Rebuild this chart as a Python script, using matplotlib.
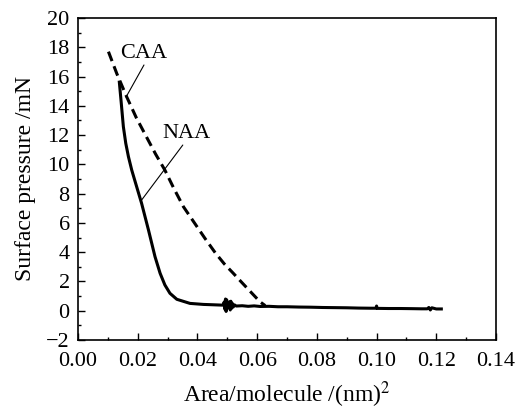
import numpy as np
import matplotlib
matplotlib.use("Agg")
import matplotlib.pyplot as plt
from matplotlib.ticker import MultipleLocator, FormatStrFormatter

matplotlib.rcParams['mathtext.fontset'] = 'stix'
matplotlib.rcParams['font.family'] = 'Liberation Serif'

# CAA isotherm (dashed)
caa_area = [0.0102, 0.0130, 0.0163, 0.0195, 0.0230, 0.0260, 0.0291, 0.0320,
            0.0353, 0.0390, 0.0425, 0.0460, 0.0490, 0.0520, 0.0550, 0.0580,
            0.0610, 0.0627]
caa_pressure = [17.7, 16.2, 14.62, 13.2, 11.85, 10.7, 9.61, 8.4,
                7.11, 6.0, 4.95, 3.95, 3.2, 2.56, 1.9, 1.25,
                0.6, 0.35]

# NAA isotherm (solid)
naa_area = [0.0138, 0.0145, 0.0152, 0.0160, 0.0169, 0.0180, 0.0191, 0.0213,
            0.0236, 0.0258, 0.0275, 0.0291, 0.0308, 0.0331, 0.0375, 0.0420,
            0.0460, 0.0485, 0.0490, 0.0492, 0.0494, 0.0496, 0.0498, 0.0500,
            0.0502, 0.0505, 0.0508, 0.0510, 0.0512, 0.0514, 0.0517, 0.0520,
            0.0524, 0.0530, 0.0550, 0.0570, 0.0590, 0.0610, 0.0640, 0.0670,
            0.0700, 0.0740, 0.0780, 0.0820, 0.0860, 0.0900, 0.0940, 0.0980,
            0.0998, 0.1000, 0.1002, 0.1040, 0.1080, 0.1120, 0.1150, 0.1170,
            0.1175, 0.1180, 0.1185, 0.1200, 0.1222]
naa_pressure = [15.72, 14.17, 12.57, 11.44, 10.52, 9.61, 8.85, 7.34,
                5.52, 3.69, 2.56, 1.76, 1.19, 0.78, 0.5, 0.43,
                0.4, 0.38, 0.6, 0.1, 0.8, -0.05, 0.75, 0.2,
                0.55, 0.2, 0.6, 0.05, 0.65, 0.15, 0.5, 0.25,
                0.4, 0.32, 0.34, 0.3, 0.33, 0.29, 0.3, 0.27,
                0.27, 0.25, 0.24, 0.22, 0.21, 0.2, 0.18, 0.17,
                0.17, 0.32, 0.16, 0.15, 0.15, 0.14, 0.13, 0.13,
                0.22, 0.05, 0.2, 0.12, 0.12]

fig = plt.figure(figsize=(5.22, 4.12), dpi=100)
ax = fig.add_axes([0.1494, 0.1748, 0.8008, 0.7815])

ax.plot(naa_area, naa_pressure, color="black", lw=2.2, solid_capstyle="butt")
ax.plot(caa_area, caa_pressure, color="black", lw=2.2, linestyle=(0, (3.3, 1.8)))

# curve labels with leader lines
ax.text(0.0141, 17.6, "CAA", fontsize=16, ha="left", va="center")
ax.annotate("", xy=(0.0161, 14.6), xytext=(0.0221, 16.79),
            arrowprops=dict(arrowstyle="-", color="black", lw=0.8,
                            shrinkA=0, shrinkB=0))
ax.text(0.0281, 12.14, "NAA", fontsize=16, ha="left", va="center")
ax.annotate("", xy=(0.0213, 7.56), xytext=(0.0351, 11.32),
            arrowprops=dict(arrowstyle="-", color="black", lw=0.8,
                            shrinkA=0, shrinkB=0))

ax.set_xlim(0.0, 0.14)
ax.set_ylim(-2, 20)
ax.xaxis.set_major_locator(MultipleLocator(0.02))
ax.xaxis.set_minor_locator(MultipleLocator(0.01))
ax.xaxis.set_major_formatter(FormatStrFormatter("%.2f"))
ax.yaxis.set_major_locator(MultipleLocator(2))
ax.yaxis.set_minor_locator(MultipleLocator(1))
ax.tick_params(which="both", direction="in", top=False, right=False,
               labelsize=16, width=1)
ax.tick_params(which="major", length=5)
ax.tick_params(which="minor", length=2.5)
ax.tick_params(axis="x", pad=9)
ax.tick_params(axis="y", pad=6)
for sp in ax.spines.values():
    sp.set_linewidth(1.2)

ax.set_xlabel("Area/molecule /(nm)$^{2}$", fontsize=17, labelpad=6)
ax.set_ylabel("Surface pressure /mN", fontsize=17, labelpad=7)

plt.savefig("out.png", dpi=100)
